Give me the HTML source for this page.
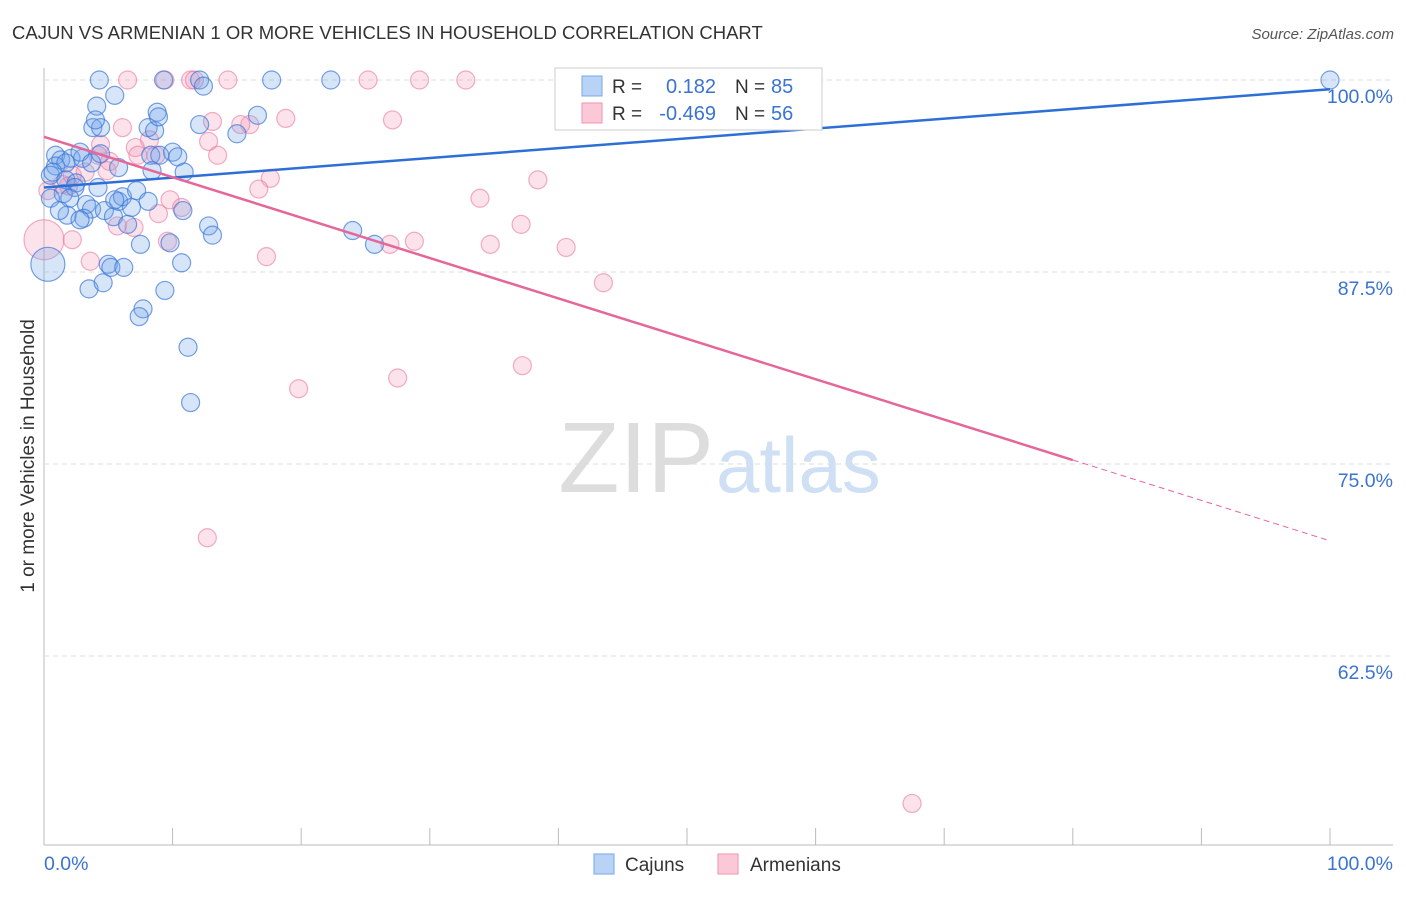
<!DOCTYPE html>
<html><head><meta charset="utf-8"><style>
body{margin:0;background:#fff;font-family:"Liberation Sans",sans-serif;}
svg text{font-family:"Liberation Sans",sans-serif;}
</style></head><body>
<svg id="chart" width="1406" height="892">
<text x="12" y="39" font-size="18.5" fill="#333">CAJUN VS ARMENIAN 1 OR MORE VEHICLES IN HOUSEHOLD CORRELATION CHART</text>
<text x="1394" y="39" font-size="15" fill="#555" font-style="italic" text-anchor="end">Source: ZipAtlas.com</text>
<text x="34" y="456" font-size="19" fill="#333" text-anchor="middle" transform="rotate(-90 34 456)">1 or more Vehicles in Household</text>
<g id="grid"></g>
<text x="714" y="492" font-size="100" fill="#ddd" font-family="Liberation Serif" text-anchor="end">ZIP</text>
<text x="716" y="492" font-size="78" fill="#cfe0f4">atlas</text>
<g id="pts"></g>
<g id="lines"></g>
<g>
<rect x="555" y="68" width="267" height="62" fill="#fff" stroke="#ccc"/>
<rect x="582" y="76" width="20" height="20" fill="#b8d3f5" stroke="#7aa7e6"/>
<rect x="582" y="103" width="20" height="20" fill="#fbc8d8" stroke="#ef93b1"/>
<text x="612" y="93" font-size="19" fill="#333">R =</text><text x="716" y="93" font-size="20" fill="#3a73d1" text-anchor="end">0.182</text>
<text x="735" y="93" font-size="19" fill="#333">N =</text><text x="771" y="93" font-size="20" fill="#3a73d1">85</text>
<text x="612" y="120" font-size="19" fill="#333">R =</text><text x="716" y="120" font-size="20" fill="#3a73d1" text-anchor="end">-0.469</text>
<text x="735" y="120" font-size="19" fill="#333">N =</text><text x="771" y="120" font-size="20" fill="#3a73d1">56</text>
</g>
<g>
<rect x="594" y="854" width="20" height="20" fill="#b8d3f5" stroke="#7aa7e6"/>
<text x="625" y="871" font-size="19" fill="#333">Cajuns</text>
<rect x="718" y="854" width="20" height="20" fill="#fbc8d8" stroke="#ef93b1"/>
<text x="750" y="871" font-size="19" fill="#333">Armenians</text>
</g>
</svg>
<script>
const yTicks=[100,87.5,75,62.5];
const yTickLabels=["100.0%","87.5%","75.0%","62.5%"];
const xTickLabels=["0.0%","100.0%"];
const cajunX=[4.3,9.3,12.1,12.4,17.7,22.3,100,5.5,4.1,3.8,4.4,4.0,8.1,8.6,8.8,8.9,12.1,15.0,16.6,0.9,1.3,0.9,2.1,1.7,3.0,2.8,3.7,4.4,5.8,8.3,9.0,10.0,10.4,8.4,10.9,0.5,0.7,1.7,2.5,2.4,1.5,3.3,3.7,2.0,0.5,1.8,3.1,2.8,4.7,5.4,5.8,6.1,6.8,7.2,8.1,6.5,10.8,12.8,13.1,7.5,9.8,24.0,25.7,0.3,5.0,5.2,6.2,10.7,3.5,4.6,7.7,7.4,9.4,11.2,11.4,5.5,4.2,1.2];
const cajunY=[100,100,100,99.6,100,100,100,99.0,98.3,96.9,96.9,97.4,96.9,96.7,97.9,97.6,97.1,96.5,97.7,95.1,94.8,94.4,94.9,94.6,94.9,95.3,94.6,95.2,94.3,95.1,95.1,95.3,95.0,94.1,94.0,93.8,94.0,93.5,93.3,93.0,92.6,91.9,91.6,92.3,92.3,91.2,91.0,90.9,91.5,91.1,92.1,92.4,91.7,92.8,92.1,90.6,91.5,90.5,89.9,89.3,89.4,90.2,89.3,88.0,88.0,87.8,87.8,88.1,86.4,86.8,85.1,84.6,86.3,82.6,79.0,92.2,93.0,91.5];
const armX=[6.5,9.4,11.4,11.7,14.3,25.2,29.2,32.8,6.1,8.2,7.1,7.3,4.4,5.1,4.2,8.7,13.5,12.8,16.0,15.3,13.1,18.8,27.1,38.4,33.9,37.1,17.6,16.7,8.9,9.8,10.7,7.0,5.7,9.6,2.2,0,3.6,17.3,26.9,28.8,34.7,40.6,43.5,19.8,27.5,37.2,12.7,67.5,0.3,1.4,2.2,3.2,4.9,1.9];
const armY=[100,100,100,100,100,100,100,100,96.9,96.1,95.6,95.1,95.8,94.7,95.1,95.1,95.1,96.0,97.1,97.1,97.3,97.5,97.4,93.5,92.3,90.6,93.6,92.9,91.3,92.2,91.7,90.4,90.5,89.5,89.6,89.6,88.2,88.5,89.3,89.5,89.3,89.1,86.8,79.9,80.6,81.4,70.2,52.9,92.8,93.2,93.8,94.0,94.1,93.1];
const cajunTrend=[93.0,99.4];
const armTrend=[96.3,70.0];
const NS="http://www.w3.org/2000/svg";
const X0=44,X1=1330,Y100=80,PXP=15.36;
const xs=v=>X0+(X1-X0)*v/100;
const ys=v=>Y100+(100-v)*PXP;
function mk(tag,a,parent){const e=document.createElementNS(NS,tag);for(const k in a)e.setAttribute(k,a[k]);parent.appendChild(e);return e;}
const grid=document.getElementById('grid');
const ax=mk('line',{x1:44,y1:68,x2:44,y2:845,stroke:'#bbb'},grid);


const bx=mk('line',{x1:44,y1:845,x2:1393,y2:845,stroke:'#bbb'},grid);


yTicks.forEach((t,i)=>{
 const g=mk('line',{x1:44,y1:ys(t),x2:1393,y2:ys(t),stroke:'#ddd','stroke-dasharray':'5,4'},grid);
 
 
 const l=mk('text',{x:1393,y:ys(t)+23,'font-size':19.5,fill:'#3a73d1','text-anchor':'end'},grid);
 l.textContent=yTickLabels[i];
 
 
});
for(let i=1;i<=10;i++){
 const t=mk('line',{x1:xs(i*10),y1:828,x2:xs(i*10),y2:845,stroke:'#bbb'},grid);
 
 
}
const xl0=mk('text',{x:44,y:870,'font-size':19.5,fill:'#3a73d1'},grid);xl0.textContent=xTickLabels[0];


const xl1=mk('text',{x:1393,y:870,'font-size':19.5,fill:'#3a73d1','text-anchor':'end'},grid);xl1.textContent=xTickLabels[1];


const pts=document.getElementById('pts');
armX.forEach((x,i)=>{
 const r=(x===0)?20:9;
 const c=mk('circle',{cx:xs(x),cy:ys(armY[i]),r:r,fill:'rgba(246,150,180,0.28)',stroke:'rgba(234,120,160,0.6)','stroke-width':1.2},pts);
 
 
});
cajunX.forEach((x,i)=>{
 const r=(x<0.4&&cajunY[i]<89)?17:9;
 const c=mk('circle',{cx:xs(x),cy:ys(cajunY[i]),r:r,fill:'rgba(110,160,235,0.28)',stroke:'rgba(60,120,215,0.7)','stroke-width':1.2},pts);
 
 
});
const lines=document.getElementById('lines');
const bl=mk('line',{x1:xs(0),y1:ys(cajunTrend[0]),x2:xs(100),y2:ys(cajunTrend[1]),stroke:'#2e6fd6','stroke-width':2.5},lines);


const split=80;
const ya=v=>armTrend[0]+(armTrend[1]-armTrend[0])*v/100;
const pl=mk('line',{x1:xs(0),y1:ys(ya(0)),x2:xs(split),y2:ys(ya(split)),stroke:'#e5679a','stroke-width':2.5},lines);


const pd=mk('line',{x1:xs(split),y1:ys(ya(split)),x2:xs(100),y2:ys(ya(100)),stroke:'#e5679a','stroke-width':1,'stroke-dasharray':'6,4'},lines);


</script>
</body></html>
